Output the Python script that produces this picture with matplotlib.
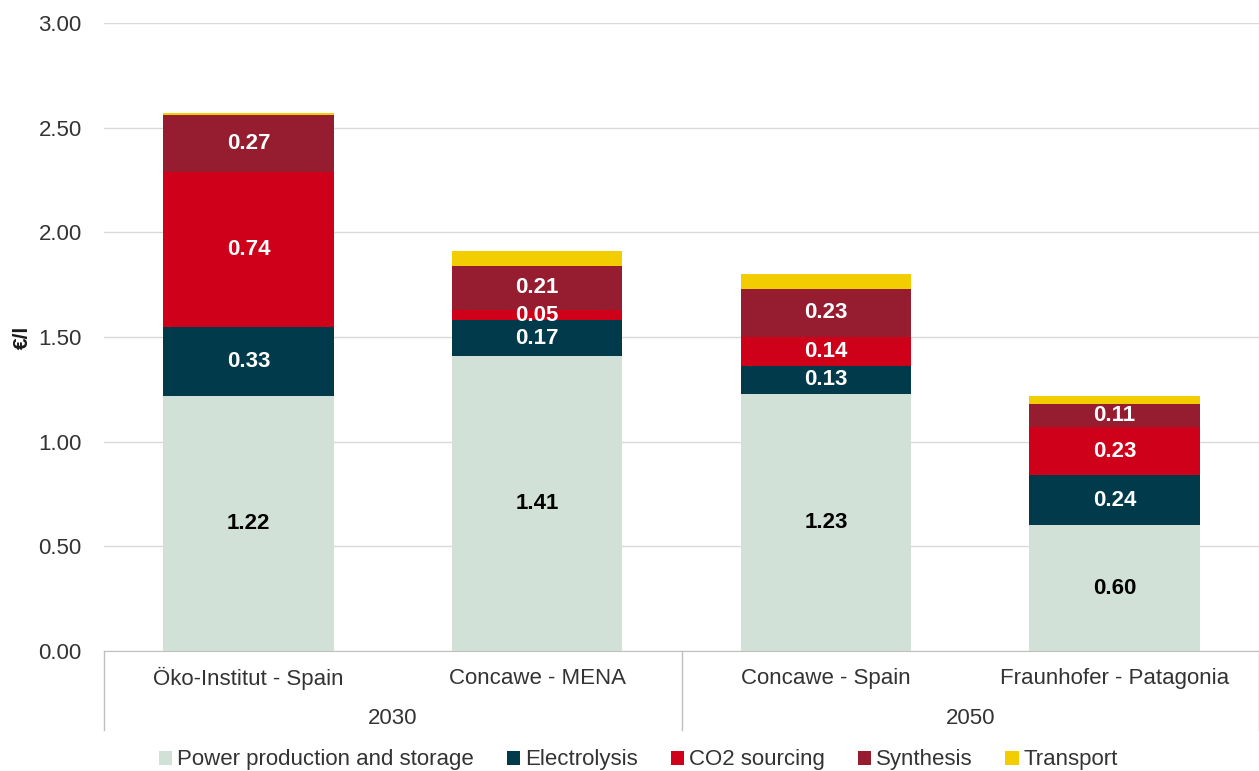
import matplotlib.pyplot as plt
import numpy as np

plt.rcParams['font.family'] = ['Liberation Sans', 'DejaVu Sans']

# data
studies = ["Öko-Institut - Spain", "Concawe - MENA", "Concawe - Spain", "Fraunhofer - Patagonia"]
years = ["2030", "2050"]
power = [1.22, 1.41, 1.23, 0.60]
electrolysis = [0.33, 0.17, 0.13, 0.24]
co2 = [0.74, 0.05, 0.14, 0.23]
synthesis = [0.27, 0.21, 0.23, 0.11]
transport = [0.01, 0.07, 0.07, 0.04]

series = [
    ("Power production and storage", power, "#D1E1D7", "black"),
    ("Electrolysis", electrolysis, "#013B4B", "white"),
    ("CO2 sourcing", co2, "#CF0019", "white"),
    ("Synthesis", synthesis, "#961C30", "white"),
    ("Transport", transport, "#F2CD00", None),
]

txt = "#333333"

fig = plt.figure(figsize=(12.59, 7.71), dpi=100)
ax = fig.add_axes([104 / 1259, 120 / 771, 1 - 104 / 1259, 628 / 771])

x = np.arange(len(studies))
bottom = np.zeros(len(studies))
for name, vals, color, txtcol in series:
    vals = np.array(vals)
    ax.bar(x, vals, width=0.59, bottom=bottom, color=color, label=name, zorder=2)
    if txtcol:
        for xi, b, v in zip(x, bottom, vals):
            ax.text(xi, b + v / 2, f"{v:.2f}", ha="center", va="center",
                    color=txtcol, fontsize=16, fontweight="bold", zorder=3)
    bottom += vals

ax.set_xlim(-0.5, 3.5)
ax.set_ylim(0, 3)
ticks = np.arange(0, 3.01, 0.5)
ax.set_yticks(ticks)
ax.set_yticklabels([f"{v:.2f}" for v in ticks])
ax.tick_params(axis="y", length=0, labelsize=16, colors=txt, pad=16)
ax.set_xticks([])
ax.yaxis.grid(True, color="#D9D9D9", linewidth=1, zorder=0)
for s in ["top", "right", "left"]:
    ax.spines[s].set_visible(False)
ax.spines["bottom"].set_color("#BFBFBF")
ax.set_ylabel("€/l", fontsize=15, fontweight="bold", color="#1a1a1a")
ax.yaxis.set_label_coords(-0.062, 0.5)

# two-level category axis
for xi, lab in zip(x, studies):
    ax.text(xi, -0.043, lab, transform=ax.get_xaxis_transform(), ha="center", va="center",
            fontsize=16, color=txt)
for i, yr in enumerate(years):
    ax.text(0.5 + 2 * i, -0.107, yr, transform=ax.get_xaxis_transform(), ha="center",
            va="center", fontsize=16, color=txt)
for xs in [-0.5, 1.5, 3.5]:
    ax.plot([xs, xs], [0, -0.126], transform=ax.get_xaxis_transform(), color="#BFBFBF",
            linewidth=1, clip_on=False)

leg = fig.legend(loc="center", bbox_to_anchor=(0.507, 11 / 771), ncol=5, frameon=False,
                 fontsize=16, handlelength=0.6, handleheight=0.6, handletextpad=0.2,
                 columnspacing=1.5, borderpad=0)
for t in leg.get_texts():
    t.set_color(txt)

fig.savefig("out.png", dpi=100)
